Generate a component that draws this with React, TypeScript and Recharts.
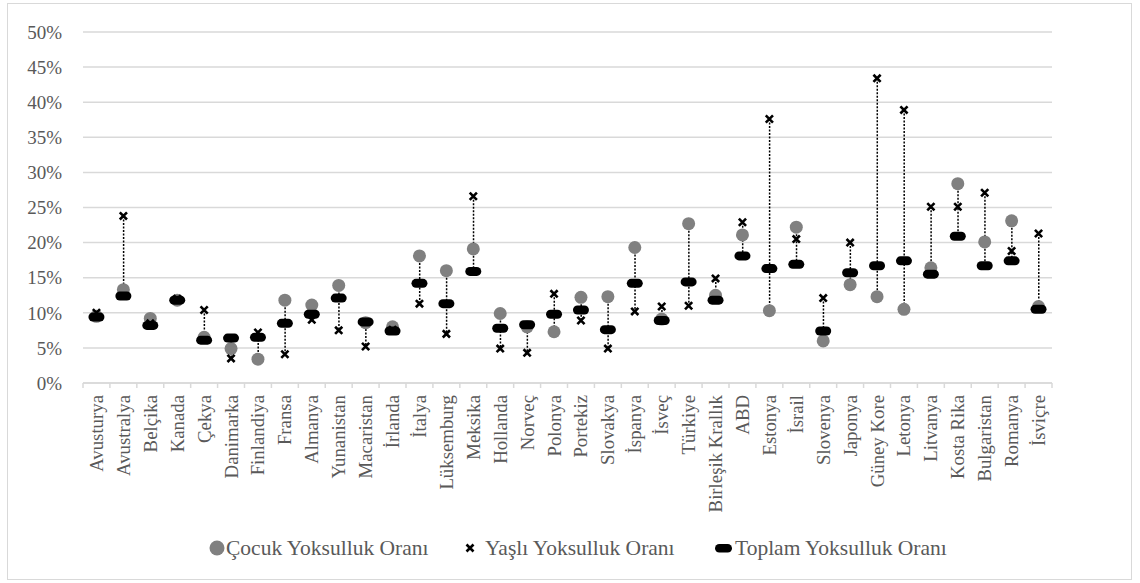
import React from 'react';
import { ComposedChart, Bar, Line, XAxis, YAxis, CartesianGrid } from 'recharts';

const countries = [
  'Avusturya', 'Avustralya', 'Belçika', 'Kanada', 'Çekya', 'Danimarka', 'Finlandiya', 'Fransa',
  'Almanya', 'Yunanistan', 'Macaristan', 'İrlanda', 'İtalya', 'Lüksemburg', 'Meksika', 'Hollanda',
  'Norveç', 'Polonya', 'Portekiz', 'Slovakya', 'İspanya', 'İsveç', 'Türkiye', 'Birleşik Krallık',
  'ABD', 'Estonya', 'İsrail', 'Slovenya', 'Japonya', 'Güney Kore', 'Letonya', 'Litvanya',
  'Kosta Rika', 'Bulgaristan', 'Romanya', 'İsviçre',
];

// Çocuk Yoksulluk Oranı (%)
const childRates = [
  9.5, 13.3, 9.2, 11.8, 6.5, 4.9, 3.4, 11.8, 11.1, 13.9, 8.6, 8.0, 18.1, 16.0, 19.1, 9.9,
  8.0, 7.3, 12.2, 12.3, 19.3, 9.1, 22.7, 12.5, 21.1, 10.3, 22.2, 6.0, 14.0, 12.3, 10.5, 16.4,
  28.4, 20.1, 23.1, 10.9,
];

// Yaşlı Yoksulluk Oranı (%)
const elderlyRates = [
  10.0, 23.8, 8.5, 12.0, 10.4, 3.5, 7.2, 4.1, 9.0, 7.5, 5.2, 7.6, 11.3, 7.0, 26.6, 4.9,
  4.3, 12.7, 8.9, 4.9, 10.2, 10.9, 11.0, 14.9, 22.9, 37.6, 20.5, 12.1, 20.0, 43.4, 38.9, 25.1,
  25.1, 27.1, 18.8, 21.3,
];

// Toplam Yoksulluk Oranı (%)
const totalRates = [
  9.4, 12.4, 8.2, 11.8, 6.1, 6.4, 6.5, 8.5, 9.8, 12.1, 8.7, 7.4, 14.2, 11.3, 15.9, 7.8,
  8.3, 9.8, 10.4, 7.6, 14.2, 8.9, 14.4, 11.8, 18.1, 16.3, 16.9, 7.4, 15.7, 16.7, 17.4, 15.5,
  20.9, 16.7, 17.4, 10.5,
];

const yTicks = [0, 5, 10, 15, 20, 25, 30, 35, 40, 45, 50];

const data = countries.map((name, i) => {
  const vals = [childRates[i], elderlyRates[i], totalRates[i]];
  return {
    name,
    child: childRates[i],
    elderly: elderlyRates[i],
    total: totalRates[i],
    range: [Math.min(...vals), Math.max(...vals)],
  };
});

const W = 1140;
const H = 583;
const M = { top: 32, right: 88, bottom: 0, left: 0 };
const X_AXIS_H = 200;
const step = (W - 83 - M.right) / countries.length;
const FONT = '"Liberation Serif", "Times New Roman", serif';
const GRAY = '#808080';
const TEXT = '#595959';

const RangeLine = (props: any) => {
  const { x, y, width, height } = props;
  if (x == null || height == null) return null;
  const cx = x + width / 2;
  return (
    <line x1={cx} x2={cx} y1={y} y2={y + height} stroke="#000" strokeWidth={1.5} strokeDasharray="2 1.5" />
  );
};

const ChildDot = (props: any) => {
  const { cx, cy, index } = props;
  return <circle key={`c-${index}`} cx={cx} cy={cy} r={6.5} fill={GRAY} />;
};

const ElderDot = (props: any) => {
  const { cx, cy, index } = props;
  const s = 3.6;
  return (
    <path
      key={`e-${index}`}
      d={`M${cx - s},${cy - s}L${cx + s},${cy + s}M${cx - s},${cy + s}L${cx + s},${cy - s}`}
      stroke="#000"
      strokeWidth={2.6}
    />
  );
};

const TotalDot = (props: any) => {
  const { cx, cy, index } = props;
  return <rect key={`t-${index}`} x={cx - 8} y={cy - 4.5} width={16} height={9} rx={4.5} fill="#000" />;
};

const XTick = (props: any) => {
  const { x, y, payload, index } = props;
  return (
    <g>
      <line x1={x - step / 2} x2={x - step / 2} y1={y} y2={y + 5} stroke="#d9d9d9" strokeWidth={1.5} />
      {index === countries.length - 1 && (
        <line x1={x + step / 2} x2={x + step / 2} y1={y} y2={y + 5} stroke="#d9d9d9" strokeWidth={1.5} />
      )}
      <text
        x={0}
        y={0}
        transform={`translate(${x},${y + 12}) rotate(-90)`}
        textAnchor="end"
        dominantBaseline="central"
        fontFamily={FONT}
        fontSize={18.8}
        fill={TEXT}
      >
        {payload.value}
      </text>
    </g>
  );
};

const legendText = (left: number, label: string) => (
  <span
    style={{
      position: 'absolute', left, top: 535, lineHeight: '26px', fontFamily: FONT,
      fontSize: 21.5, color: TEXT, whiteSpace: 'nowrap',
    }}
  >
    {label}
  </span>
);

export default function App() {
  return (
    <div style={{ position: 'absolute', left: 0, top: 0, width: W, height: H, background: '#fff' }}>
      <div
        style={{
          position: 'absolute', left: 7, top: 3, width: 1125, height: 577,
          border: '1.5px solid #d9d9d9', boxSizing: 'border-box',
        }}
      />
      <div style={{ position: 'absolute', left: 0, top: 0 }}>
        <ComposedChart width={W} height={H} data={data} margin={M}>
          <CartesianGrid horizontal vertical={false} stroke="#d9d9d9" strokeWidth={1.5} />
          <XAxis
            dataKey="name"
            interval={0}
            tickLine={false}
            tickSize={0}
            tickMargin={0}
            axisLine={{ stroke: '#d9d9d9', strokeWidth: 1.5 }}
            tick={<XTick />}
            height={X_AXIS_H}
          />
          <YAxis
            width={83}
            domain={[0, 50]}
            ticks={yTicks}
            tickFormatter={(v: number) => `${v}%`}
            axisLine={false}
            tickLine={false}
            tickSize={0}
            tickMargin={21}
            tick={{ fontFamily: FONT, fontSize: 19, fill: TEXT }}
          />
          <Bar dataKey="range" shape={<RangeLine />} isAnimationActive={false} legendType="none" />
          <Line dataKey="child" stroke="none" dot={ChildDot} activeDot={false} isAnimationActive={false} />
          <Line dataKey="elderly" stroke="none" dot={ElderDot} activeDot={false} isAnimationActive={false} />
          <Line dataKey="total" stroke="none" dot={TotalDot} activeDot={false} isAnimationActive={false} />
        </ComposedChart>
      </div>
      <svg width={W} height={30} style={{ position: 'absolute', left: 0, top: 533 }}>
        <circle cx={217} cy={15} r={7.5} fill={GRAY} />
        <path d="M466.5,11.5L473.5,18.5M466.5,18.5L473.5,11.5" stroke="#000" strokeWidth={2.6} />
        <rect x={715} y={11} width={17} height={8.5} rx={4.25} fill="#000" />
      </svg>
      {legendText(226, 'Çocuk Yoksulluk Oranı')}
      {legendText(485, 'Yaşlı Yoksulluk Oranı')}
      {legendText(735, 'Toplam Yoksulluk Oranı')}
    </div>
  );
}
